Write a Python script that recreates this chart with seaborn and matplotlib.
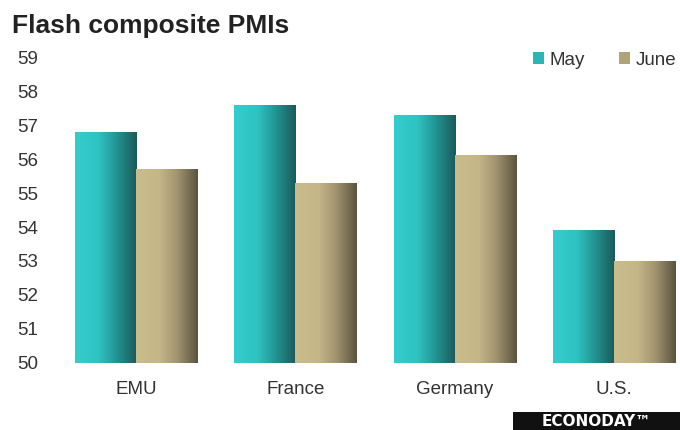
import numpy as np
import pandas as pd
import matplotlib
matplotlib.use("Agg")
import matplotlib.pyplot as plt
from matplotlib.colors import LinearSegmentedColormap
from matplotlib.patches import Patch, Rectangle
import seaborn as sns

# Flash composite PMI readings
regions = ["EMU", "France", "Germany", "U.S."]
months = ["May", "June"]
may_values = [56.8, 57.6, 57.3, 53.9]
june_values = [55.7, 55.3, 56.1, 53.0]
y_ticks = [50, 51, 52, 53, 54, 55, 56, 57, 58, 59]

df = pd.DataFrame({
    "region": regions * 2,
    "month": ["May"] * len(regions) + ["June"] * len(regions),
    "value": may_values + june_values,
})

sns.set_theme(style="white")
plt.rcParams["font.family"] = ["Liberation Sans", "DejaVu Sans"]

# horizontal shading for each series, light on the left, dark on the right
cmaps = {
    "May": LinearSegmentedColormap.from_list(
        "may", [(0, "#34CDCD"), (0.38, "#2FC3C3"), (0.62, "#259C9C"), (1, "#1B5A5A")]),
    "June": LinearSegmentedColormap.from_list(
        "june", [(0, "#CABD8C"), (0.38, "#C4B687"), (0.66, "#A29570"), (1, "#5A543F")]),
}
mid_colors = {"May": "#2CB5B5", "June": "#B0A37A"}

fig = plt.figure(figsize=(6.8, 4.3), dpi=100)
ax = fig.add_axes([56 / 680, 0.1563, 1 - 56 / 680, 0.8667 - 0.1563])

sns.barplot(data=df, x="region", y="value", hue="month", hue_order=months,
            order=regions, palette=mid_colors, width=0.766, gap=0,
            saturation=1, legend=False, ax=ax, errorbar=None)

y_min, y_max = 50, 59
grad = np.linspace(0, 1, 256).reshape(1, -1)
for month, container in zip(months, ax.containers):
    for bar in container:
        x0, w = bar.get_x(), bar.get_width()
        top = bar.get_y() + bar.get_height()
        bar.set_facecolor("none")
        bar.set_edgecolor("none")
        ax.imshow(grad, cmap=cmaps[month], aspect="auto",
                  extent=(x0, x0 + w, y_min, top), zorder=2,
                  interpolation="bilinear")

x_left = (56 - 136) / 159.3
x_right = (680 - 136) / 159.3
ax.set_xlim(x_left, x_right)
ax.set_ylim(y_min, y_max)
ax.set_yticks(y_ticks)
ax.set_yticklabels([str(t) for t in y_ticks])
ax.set_xlabel("")
ax.set_ylabel("")
sns.despine(ax=ax, left=True, bottom=True)
ax.tick_params(axis="y", length=0, pad=13, labelsize=13.5, labelcolor="#333333")
ax.tick_params(axis="x", length=0, pad=13, labelsize=13.5, labelcolor="#333333")
ax.grid(False)

handles = [Patch(facecolor=mid_colors[m], edgecolor="none") for m in months]
ax.legend(handles, months, loc="upper right", bbox_to_anchor=(1.0, 1.03),
          ncol=2, frameon=False, handlelength=0.6, handleheight=0.6,
          handletextpad=0.3, columnspacing=1.8, borderaxespad=0.2,
          borderpad=0, fontsize=13.5, labelcolor="#333333")

fig.text(12 / 680, 1 - 33 / 430, "Flash composite PMIs", fontsize=19,
         fontweight="bold", color="#222222", va="baseline", ha="left")

# brand mark in the lower right corner
fig.add_artist(Rectangle((513 / 680, 0), 167 / 680, 18 / 430,
                         transform=fig.transFigure, facecolor="#111111",
                         edgecolor="none"))
fig.text(596 / 680, 9 / 430, "ECONODAY\u2122", fontsize=11, fontweight="bold",
         color="white", ha="center", va="center", family="DejaVu Sans")

fig.savefig("out.png", dpi=100, facecolor="white")
